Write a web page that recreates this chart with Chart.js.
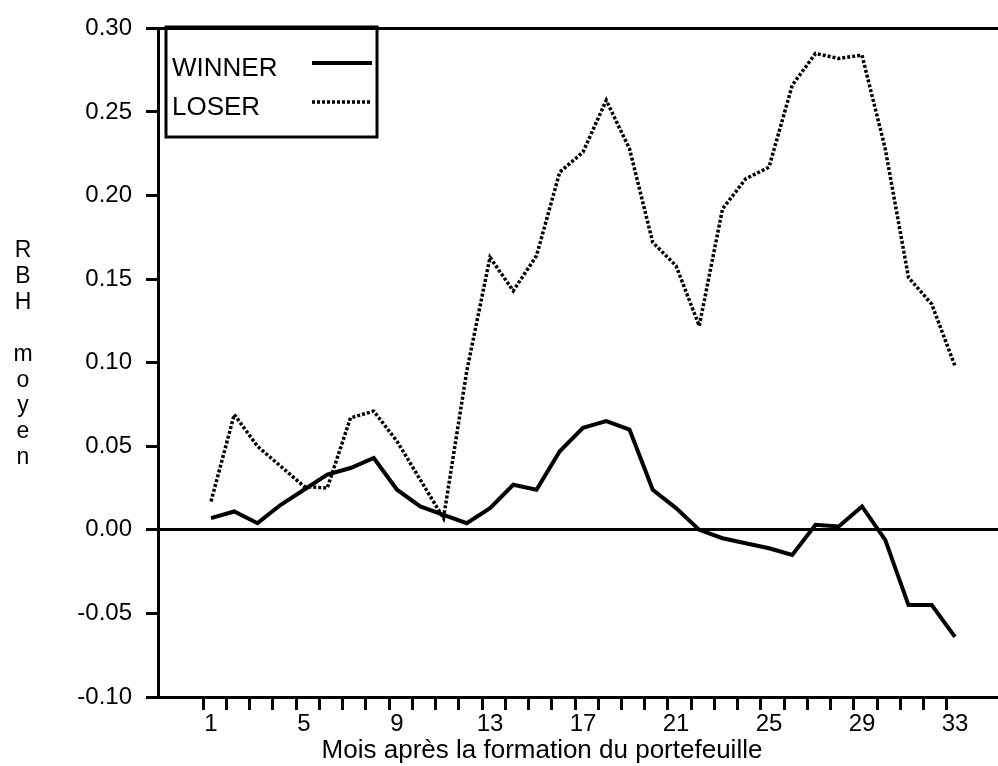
<!DOCTYPE html>
<html>
<head>
<meta charset="utf-8">
<script src="https://cdn.jsdelivr.net/npm/chart.js@4/dist/chart.umd.min.js"></script>
<style>
body{margin:0;background:#fff;}
</style>
</head>
<body>
<canvas id="rbh" width="998" height="766"></canvas>
<script>
// months after portfolio formation
var months = [1,2,3,4,5,6,7,8,9,10,11,12,13,14,15,16,17,18,19,20,21,22,23,24,25,26,27,28,29,30,31,32,33];
var winner = [0.007,0.011,0.004,0.015,0.024,0.033,0.037,0.043,0.024,0.014,0.009,0.004,0.013,0.027,0.024,0.047,0.061,
              0.065,0.060,0.024,0.013,0.000,-0.005,-0.008,-0.011,-0.015,0.003,0.002,0.014,-0.006,-0.045,-0.045,-0.064];
var loser = [0.017,0.069,0.050,0.038,0.026,0.025,0.067,0.071,0.053,0.030,0.007,0.095,0.163,0.143,0.164,0.214,0.226,
             0.257,0.228,0.172,0.158,0.122,0.192,0.210,0.217,0.266,0.285,0.282,0.284,0.228,0.151,0.135,0.098];
var xLabels = [1,5,9,13,17,21,25,29,33];
var yTicks = [-0.10,-0.05,0.00,0.05,0.10,0.15,0.20,0.25,0.30];
var yTitle = "RBH moyen";
var xTitle = "Mois après la formation du portefeuille";

var tickShift = 0.344; // the tick marks sit a little left of the points

function pts(vals){
  return months.map(function(m,i){ return {x:m, y:vals[i]}; });
}

var titles = {
  id:'titles',
  afterDraw:function(chart){
    var c = chart.ctx;
    c.save();
    c.fillStyle = '#000';
    c.font = '23px Arial';
    c.textAlign = 'center';
    c.textBaseline = 'alphabetic';
    for(var i=0;i<yTitle.length;i++){
      c.fillText(yTitle[i], 23, 257 + i*25.9);
    }
    c.font = '26px Arial';
    c.fillText(xTitle, 542, 758);
    c.restore();
  }
};

var legendBox = {
  id:'legendBox',
  afterDraw:function(chart){
    var c = chart.ctx;
    var ds = chart.data.datasets;
    c.save();
    c.strokeStyle = '#000';
    c.lineWidth = 3;
    c.strokeRect(166,27,211,110);
    c.font = '26px Arial';
    c.fillStyle = '#000';
    c.textAlign = 'left';
    for(var i=0;i<ds.length;i++){
      var y = 63 + i*39;
      c.fillText(ds[i].label, 172, 76 + i*39);
      c.lineWidth = ds[i].borderWidth;
      c.setLineDash(ds[i].borderDash || []);
      c.beginPath();
      c.moveTo(312,y);
      c.lineTo(372,y);
      c.stroke();
    }
    c.restore();
  }
};

new Chart("rbh", {
  type: "line",
  data: {
    datasets: [{
      label: "WINNER",
      data: pts(winner),
      borderColor: "#000",
      borderWidth: 4,
      pointRadius: 0,
      tension: 0
    },{
      label: "LOSER",
      data: pts(loser),
      borderColor: "#000",
      borderWidth: 3.5,
      borderDash: [3,2],
      pointRadius: 0,
      tension: 0
    }]
  },
  options: {
    responsive: false,
    animation: false,
    devicePixelRatio: 1,
    layout: {padding:{top:23,right:0,left:0,bottom:0}},
    plugins: {legend:{display:false}, tooltip:{enabled:false}},
    scales: {
      x: {
        type: "linear",
        min: -1.28,
        max: 34.85,
        afterFit: function(s){ s.height = 69; },
        afterBuildTicks: function(s){
          s.ticks = months.map(function(m){ return {value: m - tickShift}; });
        },
        border: {display:true, color:"#000", width:3},
        grid: {drawOnChartArea:false, drawTicks:true, tickLength:13, color:"#000", lineWidth:3},
        ticks: {
          autoSkip: false,
          maxRotation: 0,
          padding: 0,
          labelOffset: 8,
          color: "#000",
          font: {family:"Arial", size:24},
          callback: function(v){
            var m = Math.round(v + tickShift);
            return xLabels.indexOf(m) >= 0 ? String(m) : '';
          }
        }
      },
      y: {
        min: -0.10,
        max: 0.30,
        afterFit: function(s){ s.width = 158; },
        afterBuildTicks: function(s){
          s.ticks = yTicks.map(function(v){ return {value:v}; });
        },
        border: {display:true, color:"#000", width:3},
        grid: {
          drawTicks: true,
          tickLength: 12,
          tickColor: "#000",
          tickWidth: 3,
          lineWidth: 3,
          color: function(ctx){
            var v = ctx.tick ? ctx.tick.value : null;
            if(v === null) return 'rgba(0,0,0,0)';
            return (Math.abs(v) < 1e-9 || Math.abs(v - 0.30) < 1e-9) ? '#000' : 'rgba(0,0,0,0)';
          }
        },
        ticks: {
          padding: 14,
          color: "#000",
          font: {family:"Arial", size:24},
          callback: function(v){ return Number(v).toFixed(2); }
        }
      }
    }
  },
  plugins: [titles, legendBox]
});
</script>
</body>
</html>
